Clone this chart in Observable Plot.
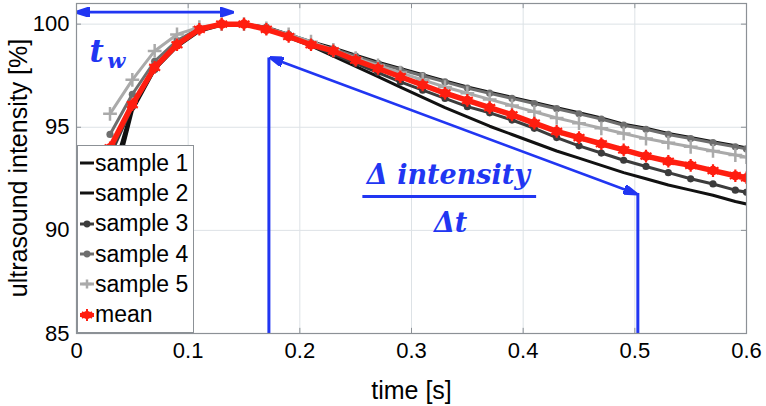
<!DOCTYPE html>
<html><head><meta charset="utf-8">
<script src="https://cdn.jsdelivr.net/npm/d3@7"></script>
<script src="https://cdn.jsdelivr.net/npm/@observablehq/plot@0.6"></script>
<style>
body{margin:0;background:#fff;}
#wrap{position:relative;width:766px;height:406px;}
#legend{position:absolute;left:77px;top:145px;width:117px;height:188px;background:#fff;border:1px solid #8c9196;font-family:"Liberation Sans",Arial,sans-serif;font-size:23px;color:#000;box-sizing:border-box;padding-top:2px;}
.row{height:30.3px;display:flex;align-items:center;white-space:nowrap;}
.row svg{width:16px;height:14px;flex:none;margin-left:1px;}
</style></head><body><div id="wrap"><div id="legend"></div></div>
<script>
// ---- data ----
const times = [0.03,0.05,0.07,0.09,0.11,0.13,0.15,0.17,0.19,0.21,0.23,0.25,0.27,0.29,0.31,0.33,0.35,0.37,0.39,0.41,0.43,0.45,0.47,0.49,0.51,0.53,0.55,0.57,0.59,0.60];
const sample1 = [91.5,95.8,97.8,98.9,99.65,99.95,100,99.8,99.35,98.95,98.45,97.95,97.45,96.95,96.45,95.95,95.5,95.05,94.65,94.25,93.85,93.5,93.15,92.8,92.5,92.2,91.95,91.7,91.4,91.28];
const sample2 = [92.3,96.0,97.85,99.0,99.7,100,100,99.85,99.5,99.15,98.85,98.5,98.15,97.85,97.55,97.25,96.95,96.7,96.45,96.2,95.95,95.7,95.45,95.15,94.95,94.7,94.5,94.3,94.1,94.0];
const sample3 = [93.6,96.0,97.8,99.0,99.75,100,100,99.75,99.4,98.95,98.55,98.1,97.65,97.2,96.8,96.4,96.0,95.7,95.35,94.95,94.5,94.1,93.75,93.4,93.1,92.8,92.5,92.25,91.95,91.85];
const sample4 = [94.65,96.6,98.2,99.2,99.8,100,100,99.85,99.5,99.1,98.8,98.45,98.1,97.8,97.5,97.2,96.9,96.65,96.4,96.15,95.9,95.65,95.4,95.1,94.9,94.65,94.45,94.25,94.05,93.95];
const sample5 = [95.65,97.3,98.7,99.5,99.85,100,100,99.8,99.5,99.15,98.75,98.35,98.0,97.65,97.3,96.95,96.65,96.35,96.05,95.75,95.45,95.2,94.95,94.7,94.45,94.25,94.05,93.85,93.65,93.55];
const mean    = [94.0,96.1,97.9,99.0,99.75,100,100,99.75,99.4,99.0,98.7,98.25,97.85,97.45,97.05,96.65,96.3,95.95,95.6,95.2,94.8,94.5,94.2,93.9,93.6,93.35,93.15,92.9,92.65,92.55];

const seriesNames = ["sample 1","sample 2","sample 3","sample 4","sample 5","mean"];
const seriesValues = [sample1, sample2, sample3, sample4, sample5, mean];
const seriesColors = ["#111111","#111111","#3c3c3c","#6e6e6e","#aaaaaa","#ff1e10"];
const seriesSymbols = [null, null, "circle", "circle", "plus", "asterisk"];

const xTicks = [0,0.1,0.2,0.3,0.4,0.5,0.6];
const xTickLabels = ["0","0.1","0.2","0.3","0.4","0.5","0.6"];
const yTicks = [85,90,95,100];
const yTickLabels = ["85","90","95","100"];
const xLabel = "time [s]";
const yLabel = "ultrasound intensity [%]";

// annotations (in data units: time, intensity)
const twArrow = [{x1:0.001, y1:100.58, x2:0.139, y2:100.58}];
const slopeArrow = [{x1:0.1745, y1:98.36, x2:0.5005, y2:91.79}];
const verticals = [{x:0.1723, y1:85, y2:98.36}, {x:0.5027, y1:85, y2:91.79}];
const fracBar = [{x1:0.256, x2:0.4116, y:91.64}];
const tLabel = [{t:0.0116, v:98.15, text:"t"}];
const wLabel = [{t:0.0275, v:97.85, text:"w"}];
const numLabel = [{t:0.333, v:92.27, text:"\u0394 intensity"}];
const denLabel = [{t:0.335, v:89.9, text:"\u0394t"}];

// ---- build ----
const rows = seriesNames.flatMap((name, i) => times.map((t, j) => ({series: name, t, v: seriesValues[i][j]})));
const blue = "#2136f2";
const gridColor = "#dde2e6";
const frameColor = "#8c9196";
const mathFont = "DejaVu Serif, serif";

function headMarker(color, context) {
  const ns = "http://www.w3.org/2000/svg";
  const doc = (context && context.document) || document;
  const m = doc.createElementNS(ns, "marker");
  m.setAttribute("viewBox", "0 -5 14 10");
  m.setAttribute("markerWidth", 14);
  m.setAttribute("markerHeight", 10);
  m.setAttribute("markerUnits", "userSpaceOnUse");
  m.setAttribute("refX", 12);
  m.setAttribute("refY", 0);
  m.setAttribute("orient", "auto-start-reverse");
  const p = doc.createElementNS(ns, "path");
  p.setAttribute("d", "M0,-4.5L14,0L0,4.5Z");
  p.setAttribute("fill", color);
  m.appendChild(p);
  return m;
}

function build(marker) {
  const marks = [
    Plot.gridX(xTicks, {stroke: gridColor, strokeOpacity: 1}),
    Plot.gridY(yTicks, {stroke: gridColor, strokeOpacity: 1}),
    Plot.ruleX(xTicks, {x: d => d, y1: 85, y2: 85.25, stroke: frameColor}),
    Plot.ruleX(xTicks, {x: d => d, y1: 100.75, y2: 101, stroke: frameColor}),
    Plot.ruleY(yTicks, {y: d => d, x1: 0, x2: 0.0045, stroke: frameColor}),
    Plot.ruleY(yTicks, {y: d => d, x1: 0.5955, x2: 0.6, stroke: frameColor}),
  ];
  seriesNames.forEach((name, i) => {
    const d = rows.filter(r => r.series === name);
    const isMean = name === "mean";
    marks.push(Plot.line(d, {x: "t", y: "v", stroke: seriesColors[i], strokeWidth: isMean ? 5.5 : 3, clip: true}));
    const sym = seriesSymbols[i];
    if (sym === "circle") {
      marks.push(Plot.dot(d, {x: "t", y: "v", fill: seriesColors[i], r: 3.6, symbol: "circle", clip: true}));
    } else if (sym === "plus") {
      marks.push(Plot.dot(d, {x: "t", y: "v", stroke: seriesColors[i], r: 4.5, strokeWidth: 2.5, symbol: "plus", clip: true}));
    } else if (sym === "asterisk") {
      marks.push(Plot.dot(d, {x: "t", y: "v", fill: seriesColors[i], r: 4.8, symbol: "circle", clip: true}));
      marks.push(Plot.dot(d, {x: "t", y: "v", stroke: seriesColors[i], r: 6, strokeWidth: 2.2, symbol: "asterisk", clip: true}));
    }
  });
  marks.push(
    Plot.link(twArrow, {x1: "x1", y1: "y1", x2: "x2", y2: "y2", stroke: blue, strokeWidth: 2.6, markerStart: marker, markerEnd: marker}),
    Plot.link(slopeArrow, {x1: "x1", y1: "y1", x2: "x2", y2: "y2", stroke: blue, strokeWidth: 2.6, markerStart: marker, markerEnd: marker}),
    Plot.ruleX(verticals, {x: "x", y1: "y1", y2: "y2", stroke: blue, strokeWidth: 3}),
    Plot.link(fracBar, {x1: "x1", x2: "x2", y1: "y", y2: "y", stroke: blue, strokeWidth: 3}),
    Plot.text(tLabel, {x: "t", y: "v", text: "text", fill: blue, fontSize: 31, fontWeight: "bold", fontStyle: "italic", fontFamily: mathFont, textAnchor: "start", lineAnchor: "bottom"}),
    Plot.text(wLabel, {x: "t", y: "v", text: "text", fill: blue, fontSize: 21, fontWeight: "bold", fontStyle: "italic", fontFamily: mathFont, textAnchor: "start", lineAnchor: "bottom"}),
    Plot.text(numLabel, {x: "t", y: "v", text: "text", fill: blue, fontSize: 27, fontWeight: "bold", fontStyle: "italic", fontFamily: mathFont, textAnchor: "middle", lineAnchor: "bottom"}),
    Plot.text(denLabel, {x: "t", y: "v", text: "text", fill: blue, fontSize: 27, fontWeight: "bold", fontStyle: "italic", fontFamily: mathFont, textAnchor: "middle", lineAnchor: "bottom"}),
    Plot.frame({stroke: frameColor, strokeWidth: 1.2}),
    Plot.axisX({ticks: xTicks, tickSize: 0, tickPadding: 9, fontSize: 22, label: null, tickFormat: d => xTickLabels[xTicks.indexOf(d)]}),
    Plot.axisY({ticks: yTicks, tickSize: 0, tickPadding: 7, fontSize: 22, label: null, tickFormat: d => yTickLabels[yTicks.indexOf(d)]}),
    Plot.text([xLabel], {frameAnchor: "bottom", dy: 57, text: d => d, fontSize: 25, lineAnchor: "middle", fill: "#000"})
  );
  return Plot.plot({
    width: 766, height: 406,
    marginLeft: 76, marginRight: 20, marginTop: 3, marginBottom: 73,
    x: {domain: [0, 0.6]},
    y: {domain: [85, 101]},
    style: {fontFamily: "Liberation Sans, Arial, sans-serif", background: "white", color: "#000", overflow: "visible"},
    marks
  });
}

let chart;
try { chart = build(headMarker); } catch (e) { chart = build("arrow"); }
const wrap = document.getElementById("wrap");
wrap.insertBefore(chart, wrap.firstChild);

// rotated y-axis title, centred on the plot frame
const svg = d3.select(chart.tagName.toLowerCase() === "svg" ? chart : chart.querySelector("svg"));
svg.append("text")
  .attr("transform", `translate(18,${(3 + 333) / 2}) rotate(-90)`)
  .attr("text-anchor", "middle")
  .attr("dy", "0.35em")
  .attr("font-size", 25)
  .attr("font-family", "Liberation Sans, Arial, sans-serif")
  .attr("fill", "#000")
  .text(yLabel);

// legend (drawn over the plot, like the reference)
const legend = document.getElementById("legend");
seriesNames.forEach((name, i) => {
  const row = document.createElement("div");
  row.className = "row";
  const c = seriesColors[i];
  const sym = seriesSymbols[i];
  let m = "";
  if (sym === "circle") m = `<circle cx="8" cy="7" r="3.4" fill="${c}"/>`;
  else if (sym === "plus") m = `<path d="M8,2.5V11.5M3.5,7H12.5" stroke="${c}" stroke-width="2.5"/>`;
  else if (sym === "asterisk") m = `<circle cx="8" cy="7" r="4" fill="${c}"/><path d="M8,1V13M3,4L13,10M3,10L13,4" stroke="${c}" stroke-width="2"/>`;
  const w = name === "mean" ? 4 : 3;
  row.innerHTML = `<svg viewBox="0 0 16 14"><line x1="1" y1="7" x2="15" y2="7" stroke="${c}" stroke-width="${w}"/>${m}</svg><span>${name}</span>`;
  legend.appendChild(row);
});
</script></body></html>
